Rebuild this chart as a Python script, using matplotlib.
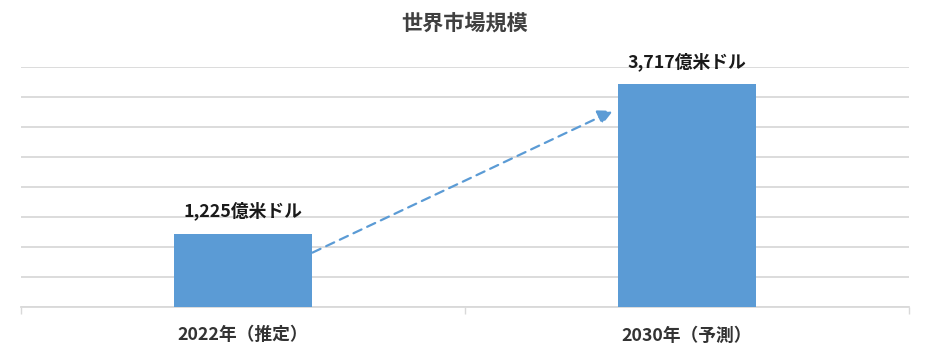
import matplotlib
matplotlib.use("Agg")
import matplotlib.pyplot as plt

plt.rcParams['font.family'] = ['Noto Sans CJK JP', 'DejaVu Sans']

title = "世界市場規模"
categories = ["2022年（推定）", "2030年（予測）"]
values = [1225, 3717]
value_labels = ["1,225億米ドル", "3,717億米ドル"]
y_max = 4000
y_step = 500

bar_color = "#5B9BD5"
grid_color = "#D9D9D9"

fig = plt.figure(figsize=(9.33, 3.57), dpi=100)
ax = fig.add_axes([21/933, 1-307/357, (909-21)/933, (307-67)/357])

x = list(range(len(categories)))
bw = 0.313
ax.bar(x, values, width=bw, color=bar_color, zorder=3)

ax.set_xlim(-0.5, len(categories) - 0.5)
ax.set_ylim(0, y_max)
ax.set_yticks(range(0, y_max + 1, y_step))
ax.yaxis.grid(True, color=grid_color, linewidth=1.3, zorder=0)
ax.tick_params(axis='y', left=False, labelleft=False)
for s in ['left', 'right', 'top']:
    ax.spines[s].set_visible(False)
ax.spines['bottom'].set_color(grid_color)
ax.spines['bottom'].set_linewidth(1.3)

# category boundary ticks
ax.set_xticks([i - 0.5 for i in range(len(categories) + 1)])
ax.set_xticklabels([])
ax.tick_params(axis='x', length=5, color=grid_color, width=1.0, direction='out')
for i, c in enumerate(categories):
    ax.annotate(c, xy=(i, 0), xytext=(0, -20.5), textcoords='offset points',
                ha='center', va='center', fontsize=12.8, fontweight='bold',
                color='#333333', annotation_clip=False)

for i, (v, lab) in enumerate(zip(values, value_labels)):
    ax.annotate(lab, xy=(i, v), xytext=(0, 16), textcoords='offset points',
                ha='center', va='center', fontsize=12.8, fontweight='bold',
                color='#1a1a1a', annotation_clip=False)

# dashed growth arrow from bar 1 to bar 2
ax.annotate("", xy=(1 - bw/2 - 0.01, values[1] * 0.88),
            xytext=(bw/2, values[0] * 0.74),
            arrowprops=dict(arrowstyle='-|>,head_length=0.9,head_width=0.45',
                            color=bar_color, lw=1.6, linestyle=(0, (4, 2.8)),
                            shrinkA=0, shrinkB=0),
            zorder=4)

fig.text(465/933, 1 - 23/357, title, ha='center', va='center', fontsize=15.2,
         fontweight='bold', color='#404040')

fig.savefig("out.png", dpi=100)
